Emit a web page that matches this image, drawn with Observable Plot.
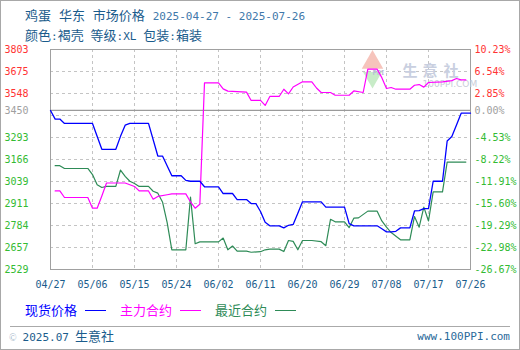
<!DOCTYPE html>
<html>
<head>
<meta charset="utf-8">
<script src="https://cdn.jsdelivr.net/npm/d3@7"></script>
<script src="https://cdn.jsdelivr.net/npm/@observablehq/plot@0.6"></script>
<style>
  body { margin: 0; background: #fff; }
  #wrap { position: relative; width: 520px; height: 350px; overflow: hidden; background:#fff; }
  .abs { position: absolute; white-space: nowrap; }
  .cjk { font-family: "Noto Sans CJK SC", sans-serif; }
  .mono { font-family: "DejaVu Sans Mono", monospace; }
</style>
</head>
<body>
<div id="wrap">
  <div class="abs cjk" style="left:25px;top:5px;font-size:13px;line-height:19px;color:#1a5c8c;word-spacing:5px;">鸡蛋 华东 市场价格 <span class="mono" style="font-size:11px;color:#3f78aa;word-spacing:0;">2025-04-27 - 2025-07-26</span></div>
  <div class="abs cjk" style="left:25px;top:25px;font-size:13px;line-height:19px;color:#1a5c8c;word-spacing:4px;">颜色<span class="mono" style="font-size:11px">:</span>褐壳 等级<span class="mono" style="font-size:11px">:XL</span> 包装<span class="mono" style="font-size:11px">:</span>箱装</div>
  <div id="chart" class="abs" style="left:0;top:0;"></div>
  <div class="abs cjk" style="left:25px;top:300px;font-size:13px;line-height:20px;color:#0000ff;">现货价格</div>
  <div class="abs" style="left:85px;top:310px;width:21px;border-top:1px solid #0000ff;"></div>
  <div class="abs cjk" style="left:120px;top:300px;font-size:13px;line-height:20px;color:#ff00ff;">主力合约</div>
  <div class="abs" style="left:180px;top:310px;width:21px;border-top:1px solid #ff00ff;"></div>
  <div class="abs cjk" style="left:215px;top:300px;font-size:13px;line-height:20px;color:#2e8b57;">最近合约</div>
  <div class="abs" style="left:275px;top:310px;width:21px;border-top:1px solid #2e8b57;"></div>
  <div class="abs" style="left:10px;top:326px;width:500px;border-top:1px solid #aaaaaa;"></div>
  <div class="abs" style="left:9px;top:326px;font-size:12px;line-height:19px;color:#1a5c8c;word-spacing:3px;"><span style="color:#9fb5c8;font-size:10px;">©</span> <span class="mono" style="font-size:11px;">2025.07</span> <span class="cjk" style="font-size:13px;">生意社</span></div>
  <div class="abs mono" style="right:10px;top:327px;font-size:11px;line-height:19px;color:#2a6a9a;">www.100PPI.com</div>
  <div class="abs" style="left:0;top:0;width:518px;height:348px;border:1px solid #a8a8a8;"></div>
</div>
<script>
// ---- data ----
const spotDates = ["2025-04-27","2025-04-28","2025-04-29","2025-04-30","2025-05-06","2025-05-08","2025-05-11","2025-05-12","2025-05-13","2025-05-14","2025-05-18","2025-05-20","2025-05-21","2025-05-23","2025-05-25","2025-05-26","2025-05-27","2025-05-29","2025-05-30","2025-06-02","2025-06-03","2025-06-05","2025-06-06","2025-06-08","2025-06-09","2025-06-10","2025-06-11","2025-06-12","2025-06-13","2025-06-15","2025-06-16","2025-06-17","2025-06-18","2025-06-19","2025-06-20","2025-06-24","2025-06-25","2025-06-29","2025-06-30","2025-07-01","2025-07-06","2025-07-07","2025-07-08","2025-07-09","2025-07-10","2025-07-11","2025-07-13","2025-07-14","2025-07-15","2025-07-16","2025-07-17","2025-07-18","2025-07-20","2025-07-21","2025-07-22","2025-07-23","2025-07-24","2025-07-26"];
const spotValues = [3450,3400,3400,3375,3375,3225,3225,3300,3365,3375,3375,3186,3186,3072,3072,3045,3040,3040,3008,3008,2969,2969,2934,2934,2911,2911,2865,2803,2782,2782,2770,2785,2790,2855,2921,2921,2890,2890,2795,2782,2782,2765,2747,2747,2750,2770,2770,2868,2870,2882,2882,3040,3040,3273,3299,3366,3434,3434];

const mainDates = ["2025-04-28","2025-04-29","2025-04-30","2025-05-05","2025-05-06","2025-05-07","2025-05-08","2025-05-09","2025-05-13","2025-05-15","2025-05-16","2025-05-18","2025-05-19","2025-05-20","2025-05-22","2025-05-23","2025-05-26","2025-05-27","2025-05-28","2025-05-29","2025-05-30","2025-06-02","2025-06-03","2025-06-04","2025-06-08","2025-06-09","2025-06-11","2025-06-12","2025-06-13","2025-06-15","2025-06-16","2025-06-17","2025-06-18","2025-06-20","2025-06-22","2025-06-23","2025-06-24","2025-06-26","2025-06-27","2025-06-30","2025-07-01","2025-07-03","2025-07-04","2025-07-06","2025-07-07","2025-07-08","2025-07-09","2025-07-10","2025-07-13","2025-07-14","2025-07-15","2025-07-16","2025-07-17","2025-07-20","2025-07-22","2025-07-23","2025-07-24","2025-07-25"];
const mainValues = [2984,2984,2946,2946,2884,2884,2955,3030,3030,3010,2984,2984,2936,2952,2962,2967,2967,2920,2884,2907,3610,3610,3575,3562,3556,3508,3508,3479,3531,3531,3573,3546,3586,3616,3616,3580,3554,3554,3538,3538,3563,3554,3689,3689,3640,3577,3583,3573,3573,3596,3600,3585,3612,3616,3623,3635,3627,3627];

const nearDates = ["2025-04-28","2025-04-29","2025-04-30","2025-05-05","2025-05-06","2025-05-07","2025-05-08","2025-05-09","2025-05-11","2025-05-12","2025-05-13","2025-05-14","2025-05-15","2025-05-16","2025-05-18","2025-05-19","2025-05-20","2025-05-21","2025-05-22","2025-05-23","2025-05-26","2025-05-27","2025-05-28","2025-05-29","2025-06-02","2025-06-03","2025-06-04","2025-06-05","2025-06-06","2025-06-08","2025-06-09","2025-06-11","2025-06-12","2025-06-13","2025-06-15","2025-06-16","2025-06-17","2025-06-18","2025-06-19","2025-06-20","2025-06-22","2025-06-24","2025-06-25","2025-06-26","2025-06-27","2025-06-29","2025-06-30","2025-07-01","2025-07-02","2025-07-04","2025-07-06","2025-07-07","2025-07-08","2025-07-09","2025-07-11","2025-07-13","2025-07-14","2025-07-15","2025-07-16","2025-07-17","2025-07-18","2025-07-20","2025-07-21","2025-07-25"];
const nearValues = [3130,3130,3114,3114,3079,3020,3004,3010,3010,3105,3068,3040,3027,3010,3010,2982,2971,2920,2801,2643,2643,2948,2678,2689,2689,2711,2643,2665,2635,2635,2629,2632,2643,2647,2647,2633,2697,2692,2643,2697,2697,2690,2667,2820,2805,2805,2772,2826,2828,2867,2867,2810,2774,2743,2701,2701,2836,2774,2890,2810,2979,2979,3151,3151];

const xTickLabels = ["04/27","05/06","05/15","05/24","06/02","06/11","06/20","06/29","07/08","07/17","07/26"];
const yTickValues = [3803,3675,3548,3450,3293,3166,3039,2911,2784,2657,2529];
const yPctLabels = ["10.23%","6.54%","2.85%","0.00%","-4.53%","-8.22%","-11.91%","-15.60%","-19.29%","-22.98%","-26.67%"];
const yGrid = [2656.4,2783.8,2911.2,3038.6,3166,3293.4,3420.8,3548.2,3675.6];
const basePrice = 3450;

// ---- build ----
const parse = d3.utcParse("%Y-%m-%d");
const toRows = (ds, vs) => ds.map((d, i) => ({date: parse(d), value: vs[i]}));
const spot = toRows(spotDates, spotValues);
const main = toRows(mainDates, mainValues);
const near = toRows(nearDates, nearValues);
const xTicks = xTickLabels.map(s => parse("2025-" + s.replace("/", "-")));
const labelColor = v => v > basePrice ? "#ff3333" : (v === basePrice ? "#a0a0a0" : "#33bb33");
const mono = "DejaVu Sans Mono, monospace";

const chart = Plot.plot({
  width: 520, height: 350,
  marginTop: 49, marginBottom: 81, marginLeft: 50, marginRight: 50,
  x: {type: "utc", domain: [parse("2025-04-27"), parse("2025-07-26")], axis: null},
  y: {domain: [2529, 3803], axis: null},
  color: {type: "identity"},
  style: {background: "transparent", overflow: "visible"},
  marks: [
    Plot.ruleY(yGrid, {stroke: "#c4c4c4", strokeDasharray: "3,3"}),
    Plot.ruleX(xTicks.slice(1, -1), {stroke: "#c4c4c4", strokeDasharray: "3,3"}),
    Plot.ruleY([basePrice], {stroke: "#9a9a9a", strokeWidth: 1.2}),
    Plot.frame({stroke: "#a0a0a0"}),
    // watermark
    Plot.dot([0], {frameAnchor: "top-left", dx: 322, dy: 13, symbol: "triangle", r: 8, fill: "#f6c4bc", stroke: "none"}),
    Plot.dot([0], {frameAnchor: "top-left", dx: 322, dy: 28, symbol: "triangle", rotate: 180, r: 7, fill: "#c8ecc8", stroke: "none"}),
    Plot.text(["PPI"], {frameAnchor: "top-left", dx: 322, dy: 21, fontSize: 7, fill: "#b8c0d8", fontWeight: "bold"}),
    Plot.text(["生"], {frameAnchor: "top-left", dx: 352, dy: 16, fontSize: 15, fill: "#c9cfe0", fontFamily: "Noto Sans CJK SC", fontWeight: "bold"}),
    Plot.text(["意"], {frameAnchor: "top-left", dx: 372, dy: 16, fontSize: 15, fill: "#c9cfe0", fontFamily: "Noto Sans CJK SC", fontWeight: "bold"}),
    Plot.text(["社"], {frameAnchor: "top-left", dx: 393, dy: 16, fontSize: 15, fill: "#c9cfe0", fontFamily: "Noto Sans CJK SC", fontWeight: "bold"}),
    Plot.text(["100PPI.COM"], {frameAnchor: "top-left", dx: 372, dy: 31, fontSize: 9, fill: "#c9cdd8", fontFamily: "DejaVu Sans, sans-serif"}),
    // series
    Plot.line(near, {x: "date", y: "value", stroke: "#2e8b57", strokeWidth: 1.2}),
    Plot.line(main, {x: "date", y: "value", stroke: "#ff00ff", strokeWidth: 1.2}),
    Plot.line(spot, {x: "date", y: "value", stroke: "#0000ff", strokeWidth: 1.3}),
    // axis labels
    Plot.text(yTickValues, {y: d => d, text: d => String(d), frameAnchor: "left", textAnchor: "end", dx: -22, fill: d => labelColor(d), fontFamily: mono, fontSize: 10}),
    Plot.text(yTickValues, {y: d => d, text: (d, i) => yPctLabels[i], frameAnchor: "right", textAnchor: "start", dx: 4, fill: d => labelColor(d), fontFamily: mono, fontSize: 10}),
    Plot.text(xTicks, {x: d => d, text: (d, i) => xTickLabels[i], frameAnchor: "bottom", dy: 18, fill: "#1a5c8c", fontFamily: mono, fontSize: 10})
  ]
});
document.getElementById("chart").appendChild(chart);
</script>
</body>
</html>
